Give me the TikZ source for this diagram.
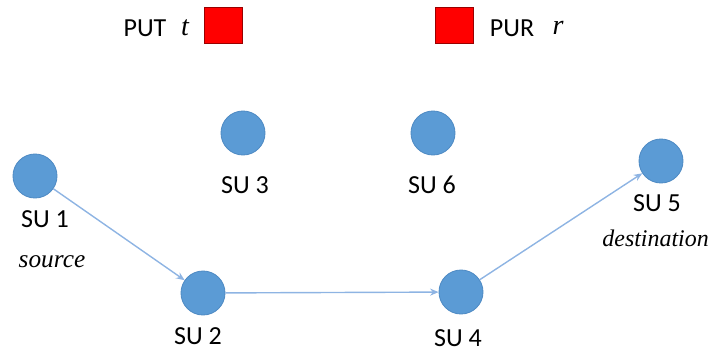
\documentclass[tikz,border=0pt]{standalone}
\usepackage{fontspec}
\setmainfont{Carlito}
\newfontfamily\labelit{Liberation Serif}
\usetikzlibrary{arrows.meta, positioning}
\definecolor{suBlue}{HTML}{5B9BD5}
\definecolor{suEdge}{HTML}{4F8BC4}
\definecolor{linkBlue}{HTML}{8EB4E3}
\definecolor{puRed}{HTML}{FF0000}
\tikzset{
  sunode/.style={circle, fill=suBlue, draw=suEdge, line width=0.6pt,
                 minimum size=1.1cm, inner sep=0pt},
  pubox/.style={rectangle, fill=puRed, draw=red!60!black, line width=0.5pt,
                minimum width=0.95cm, minimum height=0.9cm, inner sep=0pt},
  sulabel/.style={font=\fontsize{18.5}{20}\selectfont, inner sep=0pt},
  rolelabel/.style={font=\labelit\itshape\fontsize{18}{20}\selectfont, inner sep=0pt},
  sulink/.style={-{Stealth[length=6pt, width=5pt]}, linkBlue, line width=1pt},
}

\begin{document}
\begin{tikzpicture}[x=0.025cm, y=-0.025cm]
  \useasboundingbox (0,0) rectangle (712,356);
  % primary users
  \node[sulabel] (put) at (145,28) {PUT};
  \node[sulabel, font=\labelit\itshape\fontsize{20}{22}\selectfont] (tlab) at (185,28) {t};
  \node[pubox] (tx) at (223,25) {};
  \node[pubox] (rx) at (454,25) {};
  \node[sulabel] (pur) at (512,28) {PUR};
  \node[sulabel, font=\labelit\itshape\fontsize{20}{22}\selectfont] (rlab) at (558,28) {r};
  % secondary users
  \node[sunode] (su1) at (35,176) {};
  \node[sunode] (su2) at (203,293) {};
  \node[sunode] (su3) at (243,133) {};
  \node[sunode] (su6) at (433,133) {};
  \node[sunode] (su4) at (461,292) {};
  \node[sunode] (su5) at (661,161) {};
  % labels
  \node[sulabel] (l1) at (45,219) {SU 1};
  \node[rolelabel] (src) at (52,262) {source};
  \node[sulabel] (l2) at (198,336) {SU 2};
  \node[sulabel] (l3) at (245,185) {SU 3};
  \node[sulabel] (l6) at (432,185) {SU 6};
  \node[sulabel] (l4) at (458,338) {SU 4};
  \node[sulabel] (l5) at (657,203) {SU 5};
  \node[rolelabel, font=\labelit\itshape\fontsize{17}{19}\selectfont, anchor=east] (dst) at (709,238) {destination};
  % route
  \draw[sulink] (su1) -- (su2);
  \draw[sulink] (su2) -- (su4);
  \draw[sulink] (su4) -- (su5);
\end{tikzpicture}
\end{document}
